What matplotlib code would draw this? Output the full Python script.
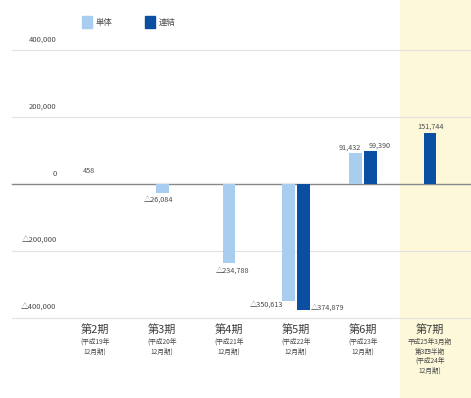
import numpy as np
import matplotlib.pyplot as plt
from matplotlib.patches import Rectangle

plt.rcParams['font.family'] = ['Noto Sans CJK JP', 'DejaVu Sans']

# 当期純利益の推移（単位：千円）
periods = ['第2期', '第3期', '第4期', '第5期', '第6期', '第7期']
period_notes = ['(平成19年\n12月期)', '(平成20年\n12月期)', '(平成21年\n12月期)',
                '(平成22年\n12月期)', '(平成23年\n12月期)',
                '平成25年3月期\n第3四半期\n(平成24年\n12月期)']
tanta = [458, -26084, -234788, -350613, 91432, None]
renketsu = [None, None, None, -374879, 99390, 151744]
label_tanta = ['458', '△26,084', '△234,788', '△350,613', '91,432', None]
label_renketsu = [None, None, None, '△374,879', '99,390', '151,744']
yticks = [400000, 200000, 0, -200000, -400000]
ytick_labels = ['400,000', '200,000', '0', '△200,000', '△400,000']

c_light = '#a8cdee'
c_dark = '#0b4fa3'
c_text = '#4a4a4a'

fig = plt.figure(figsize=(4.71, 3.98), dpi=100)
ax = fig.add_axes([0, 0, 1, 1])
ax.set_xlim(-1.42, 5.61)
ax.set_ylim(-639000, 549000)
ax.axis('off')

# 第7期のハイライト
ax.axvspan(4.55, 5.61, color='#fdf8da', zorder=0)

for v, lab in zip(yticks, ytick_labels):
    if v == 0:
        ax.axhline(v, xmin=0.025, color='#888888', lw=1.0, zorder=1)
    else:
        ax.axhline(v, xmin=0.025, color='#e2e2e2', lw=0.8, zorder=1)
    ax.text(0.12, v + 30000, lab, transform=ax.get_yaxis_transform(),
            ha='right', va='center', fontsize=5.5, color=c_text)

w = 0.19
x = np.arange(len(periods))
for i in x:
    a, b = tanta[i], renketsu[i]
    if a is not None and b is not None:
        xa, xb = i - 0.11, i + 0.11
    else:
        xa = xb = i
    if a is not None:
        ax.bar(xa, a, width=w, color=c_light, zorder=2)
    if b is not None:
        ax.bar(xb, b, width=w, color=c_dark, zorder=2)

# 数値ラベル
fs = 5.2
ax.text(x[0] - 0.1, 32000, label_tanta[0], ha='center', fontsize=fs, color=c_text)
ax.text(x[1] - 0.05, tanta[1] - 28000, label_tanta[1], ha='center', fontsize=fs, color=c_text)
ax.text(x[2] + 0.05, tanta[2] - 30000, label_tanta[2], ha='center', fontsize=fs, color=c_text)
ax.text(x[3] - 0.2, tanta[3] - 10000, label_tanta[3], ha='right', va='center', fontsize=fs, color=c_text)
ax.text(x[3] + 0.22, renketsu[3] + 5000, label_renketsu[3], ha='left', va='center', fontsize=fs, color=c_text)
ax.text(x[4] - 0.2, tanta[4] + 12000, label_tanta[4], ha='center', fontsize=fs, color=c_text)
ax.text(x[4] + 0.25, renketsu[4] + 8000, label_renketsu[4], ha='center', fontsize=fs, color=c_text)
ax.text(x[5], renketsu[5] + 12000, label_renketsu[5], ha='center', fontsize=fs, color=c_text)

# 期ラベル
for i in x:
    ax.text(i, -435000, periods[i], ha='center', va='center', fontsize=8, color='#3c3c3c')
    ax.text(i, -460000, period_notes[i], ha='center', va='top', fontsize=4.8,
            color=c_text, linespacing=1.25, multialignment='center')

# 凡例
ax.add_patch(Rectangle((-0.2, 465000), 0.15, 36000, color=c_light, zorder=3))
ax.text(-0.0, 483000, '単体', ha='left', va='center', fontsize=6, color=c_text)
ax.add_patch(Rectangle((0.75, 465000), 0.15, 36000, color=c_dark, zorder=3))
ax.text(0.95, 483000, '連結', ha='left', va='center', fontsize=6, color=c_text)

fig.savefig('out.png', dpi=100)
